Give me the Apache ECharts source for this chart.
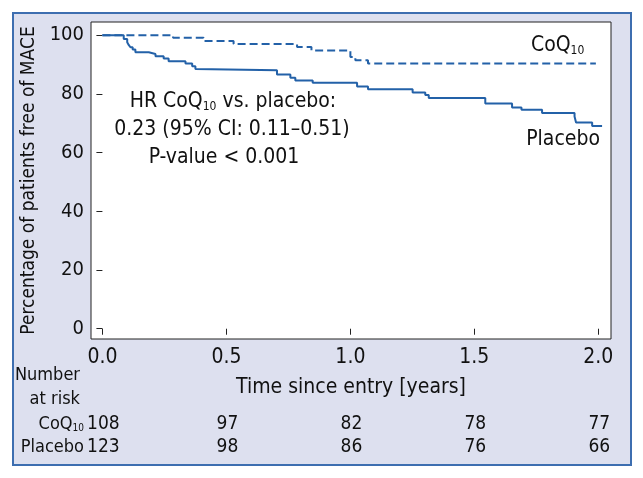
<!DOCTYPE html>
<html><head><meta charset="utf-8">
<script src="https://cdn.jsdelivr.net/npm/echarts@6/dist/echarts.min.js"></script>
<style>html,body{margin:0;padding:0;background:#fff}#c{width:643px;height:478px}</style>
</head><body><div id="c"></div>
<script>
// ---- data ----
const coqTimes = [0, 0.285, 0.408, 0.529, 0.785, 0.843, 1.0, 1.02, 1.071, 1.99];
const coqSurv  = [100, 99.1, 98.0, 97.0, 96.0, 94.8, 92.6, 91.5, 90.4, 90.4];
const plaTimes = [0, 0.086, 0.10, 0.106, 0.113, 0.122, 0.133, 0.187, 0.214, 0.247, 0.267, 0.335, 0.362, 0.375, 0.382, 0.704, 0.758, 0.778, 0.848, 1.027, 1.071, 1.251, 1.302, 1.316, 1.544, 1.652, 1.69, 1.773, 1.904, 1.91, 1.975, 2.015];
const plaSurv  = [100, 98.7, 97.6, 96.7, 95.9, 95.1, 94.2, 93.6, 92.8, 92.1, 91.1, 90.4, 89.4, 88.5, 88.1, 86.6, 85.5, 84.6, 83.8, 82.5, 81.6, 80.5, 79.6, 78.6, 76.7, 75.4, 74.6, 73.5, 72.3, 70.3, 69.1, 69.1];
const xTicks = [0, 0.5, 1.0, 1.5, 2.0];
const yTicks = [0, 20, 40, 60, 80, 100];
const riskTimes = [0, 0.5, 1.0, 1.5, 2.0];
const coqRisk = [108, 97, 82, 78, 77];
const plaRisk = [123, 98, 86, 76, 66];
const hrLines = ['{a|HR CoQ}{s|10}{a| vs. placebo:}', '0.23 (95% CI: 0.11\u20130.51)', 'P-value < 0.001'];

const F = "'Liberation Sans Narrow','DejaVu Sans Condensed','Roboto Condensed',sans-serif";
const BLUE = '#2361a8';
const FS = 21;
const TS = 18;

const chart = echarts.init(document.getElementById('c'));
const zip = (a, b) => a.map((t, i) => [t, b[i]]);

const grid = {left: 91, top: 22, width: 520, height: 317};

chart.setOption({
  animation: false,
  backgroundColor: '#fff',
  grid: Object.assign({show: true, backgroundColor: '#fff', borderColor: '#222', borderWidth: 1}, grid),
  xAxis: {
    type: 'value', min: -0.046, max: 2.051,
    name: 'Time since entry [years]', nameLocation: 'middle', nameGap: 38,
    nameTextStyle: {fontFamily: F, fontSize: FS, color: '#111'},
    axisLine: {show: false}, splitLine: {show: false},
    axisTick: {show: true, customValues: xTicks, length: 6, lineStyle: {color: '#222'}},
    axisLabel: {customValues: xTicks, margin: 8, fontFamily: F, fontSize: FS, color: '#111', formatter: v => v.toFixed(1)}
  },
  yAxis: {
    type: 'value', min: -3.5, max: 104.5,
    name: 'Percentage of patients free of MACE', nameLocation: 'middle', nameGap: 52,
    nameTextStyle: {fontFamily: F, fontSize: 19, color: '#111'},
    axisLine: {show: false}, splitLine: {show: false},
    axisTick: {show: true, customValues: yTicks, length: 6, lineStyle: {color: '#222'}},
    axisLabel: {customValues: yTicks, margin: 7, fontFamily: F, fontSize: 20, color: '#111'}
  },
  series: [
    {type: 'line', step: 'end', data: zip(coqTimes, coqSurv), symbol: 'none',
     lineStyle: {color: BLUE, width: 2, type: [8, 4]}},
    {type: 'line', step: 'end', data: zip(plaTimes, plaSurv), symbol: 'none',
     lineStyle: {color: BLUE, width: 2}}
  ]
});

const X = t => chart.convertToPixel({xAxisIndex: 0}, t);
const mkRich = fs => ({a: {fontFamily: F, fontSize: fs, color: '#111', lineHeight: fs + 1},
              s: {fontFamily: F, fontSize: Math.round(fs * 0.57), color: '#111', lineHeight: Math.round(fs * 0.57), verticalAlign: 'bottom'}});
const txt = (x, y, text, align, fs) => {
  fs = fs || FS;
  return {type: 'text', x, y, z: 50,
    style: {text, fill: '#111', font: fs + 'px ' + F, align: align || 'left', verticalAlign: 'middle', rich: mkRich(fs)}};
};

const graphics = [
  {type: 'rect', z: -100, shape: {x: 13, y: 13, width: 618, height: 452},
   style: {fill: '#dde0ef', stroke: '#3d6eb0', lineWidth: 2}},
  txt(531, 46, '{a|CoQ}{s|10}'),
  txt(600, 140, 'Placebo', 'right'),
  txt(233, 102, hrLines[0], 'center'),
  txt(232, 130, hrLines[1], 'center'),
  txt(224, 158, hrLines[2], 'center'),
  txt(80, 375, 'Number', 'right', TS),
  txt(80, 399, 'at risk', 'right', TS),
  txt(84, 424, '{a|CoQ}{s|10}', 'right', TS),
  txt(84, 447, 'Placebo', 'right', TS)
];
riskTimes.forEach((t, i) => {
  graphics.push(txt(X(t) + 1, 424, String(coqRisk[i]), 'center', TS + 1));
  graphics.push(txt(X(t) + 1, 447, String(plaRisk[i]), 'center', TS + 1));
});
chart.setOption({graphic: graphics});
</script></body></html>
